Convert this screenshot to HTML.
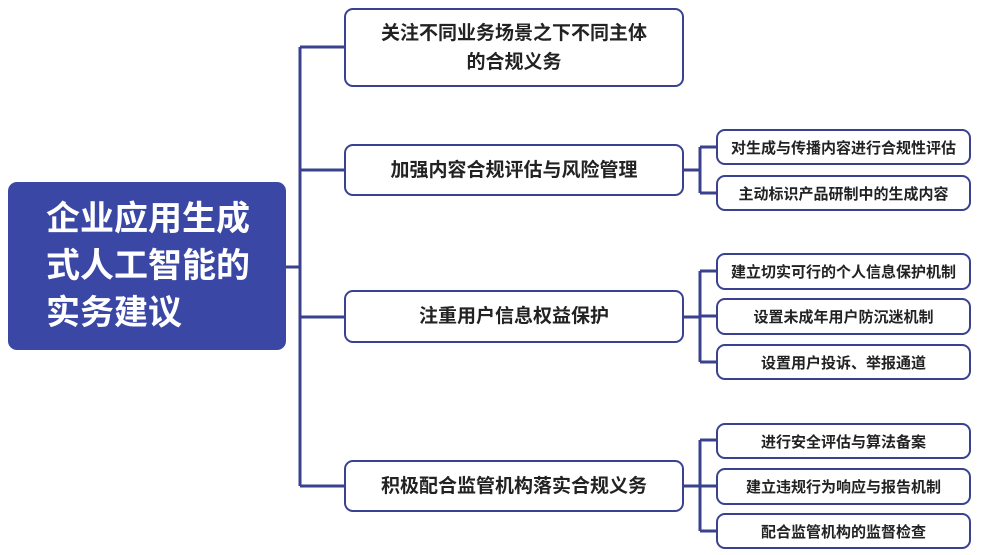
<!DOCTYPE html>
<html><head><meta charset="utf-8"><style>
body{margin:0;width:990px;height:555px;background:#fff;position:relative;overflow:hidden;font-family:"Liberation Sans","Noto Sans CJK SC",sans-serif;font-weight:bold;color:#222}
.b{position:absolute;box-sizing:border-box;border:2px solid #3a428f;border-radius:9px;background:#fff;display:flex;align-items:center;justify-content:center;text-align:center}
.l1{left:344px;width:340px;font-size:19px;line-height:29px}
.l2{left:716px;width:255px;font-size:15px}
.root{position:absolute;left:8px;top:182px;width:278px;height:168px;background:#3a47a5;border-radius:9px;color:#fff;font-size:34px;line-height:47px;box-sizing:border-box;padding:14px 0 0 38px}
svg{position:absolute;left:0;top:0}
</style></head><body>
<svg width="990" height="555"><g stroke="#3a428f" stroke-width="3" fill="none">
<path d="M286 267H300M300 47V486M300 47H344M300 170H344M300 317H344M300 486H344"/>
<path d="M684 170H700M700 147V193M700 147H716M700 193H716"/>
<path d="M684 317H700M700 271V362M700 271H716M700 316H716M700 362H716"/>
<path d="M684 486H700M700 440V531M700 440H716M700 486H716M700 531H716"/>
</g></svg>
<div class="root">企业应用生成<br>式人工智能的<br>实务建议</div>
<div class="b l1" style="top:8px;height:79px">关注不同业务场景之下不同主体<br>的合规义务</div>
<div class="b l1" style="top:144px;height:52px">加强内容合规评估与风险管理</div>
<div class="b l1" style="top:290px;height:53px">注重用户信息权益保护</div>
<div class="b l1" style="top:460px;height:52px">积极配合监管机构落实合规义务</div>
<div class="b l2" style="top:129px;height:36px">对生成与传播内容进行合规性评估</div>
<div class="b l2" style="top:175px;height:36px">主动标识产品研制中的生成内容</div>
<div class="b l2" style="top:253px;height:37px">建立切实可行的个人信息保护机制</div>
<div class="b l2" style="top:298px;height:37px">设置未成年用户防沉迷机制</div>
<div class="b l2" style="top:344px;height:36px">设置用户投诉、举报通道</div>
<div class="b l2" style="top:423px;height:36px">进行安全评估与算法备案</div>
<div class="b l2" style="top:468px;height:37px">建立违规行为响应与报告机制</div>
<div class="b l2" style="top:513px;height:36px">配合监管机构的监督检查</div>
</body></html>
